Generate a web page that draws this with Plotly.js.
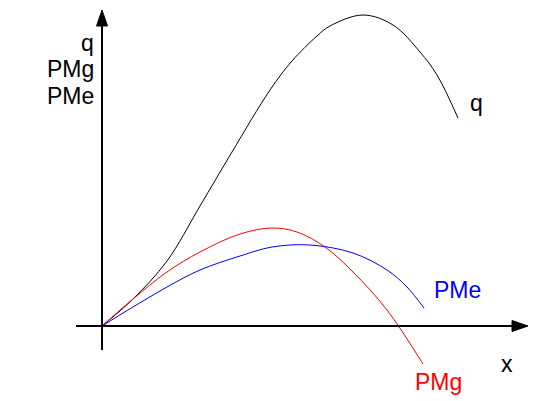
<!DOCTYPE html>
<html>
<head>
<meta charset="utf-8">
<script src="https://cdn.plot.ly/plotly-3.0.1.min.js"></script>
<style>html,body{margin:0;padding:0;background:#fff;}#chart{width:539px;height:401px;}</style>
</head>
<body>
<div id="chart"></div>
<script>
// Input x (horizontal) and outputs (arbitrary units)
const qX   = [0, 31, 65, 98, 130, 168, 190, 215, 228, 261, 291, 318, 335, 356];
const qY   = [0, 27, 65, 120, 174, 236, 265, 290, 300, 311, 301, 274, 251, 208];
const pmgX = [0, 31, 65, 98, 138, 170, 195, 223, 251, 285, 321];
const pmgY = [0, 27, 54, 74, 92, 98, 94, 79, 54, 16, -38];
const pmeX = [0, 31, 65, 98, 138, 170, 208, 251, 285, 305, 322];
const pmeY = [0, 19, 39, 56, 70, 79, 81, 73, 56, 39, 18];

const seriesNames = ["q", "PMg", "PMe"];
const axisLabels = {x: "x", y: ["q", "PMg", "PMe"]};

const font = "Liberation Sans, Arial, sans-serif";

const traces = [
  {x: qX, y: qY, mode: "lines", line: {color: "#000000", width: 1, shape: "spline", smoothing: 1}, name: seriesNames[0], hoverinfo: "skip"},
  {x: pmgX, y: pmgY, mode: "lines", line: {color: "#ff0000", width: 1, shape: "spline", smoothing: 1}, name: seriesNames[1], hoverinfo: "skip"},
  {x: pmeX, y: pmeY, mode: "lines", line: {color: "#0000ff", width: 1, shape: "spline", smoothing: 1}, name: seriesNames[2], hoverinfo: "skip"}
];

const shapes = [
  {type: "line", xref: "x", yref: "y", x0: 0, y0: -24, x1: 0, y1: 302, line: {color: "#000", width: 2}},
  {type: "path", xref: "x", yref: "y", path: "M -5.5 300 L 5.5 300 L 0 316 Z", fillcolor: "#000", line: {color: "#000", width: 1}},
  {type: "line", xref: "x", yref: "y", x0: -26, y0: 0, x1: 412, y1: 0, line: {color: "#000", width: 2}},
  {type: "path", xref: "x", yref: "y", path: "M 410 5.5 L 410 -5.5 L 426 0 Z", fillcolor: "#000", line: {color: "#000", width: 1}}
];

function lab(text, x, y, color, xanchor) {
  return {text: text, x: x, y: y, xref: "x", yref: "y", showarrow: false,
          xanchor: xanchor || "center", yanchor: "middle",
          font: {family: font, size: 23, color: color}};
}

const annotations = [
  lab(axisLabels.y[0], -6, 283, "#000", "right"),
  lab(axisLabels.y[1], -6, 257, "#000", "right"),
  lab(axisLabels.y[2], -6, 230, "#000", "right"),
  lab(seriesNames[0], 374, 223, "#000"),
  lab(seriesNames[2], 355, 36, "#0000ff"),
  lab(seriesNames[1], 336, -56, "#ff0000"),
  lab(axisLabels.x, 405, -38, "#000")
];

const layout = {
  width: 539, height: 401,
  margin: {l: 0, r: 0, t: 0, b: 0},
  paper_bgcolor: "#fff", plot_bgcolor: "#fff",
  showlegend: false,
  xaxis: {range: [-102, 437], visible: false, fixedrange: true},
  yaxis: {range: [-75, 326], visible: false, fixedrange: true},
  shapes: shapes,
  annotations: annotations
};

Plotly.newPlot("chart", traces, layout, {displayModeBar: false, staticPlot: true});
</script>
</body>
</html>
